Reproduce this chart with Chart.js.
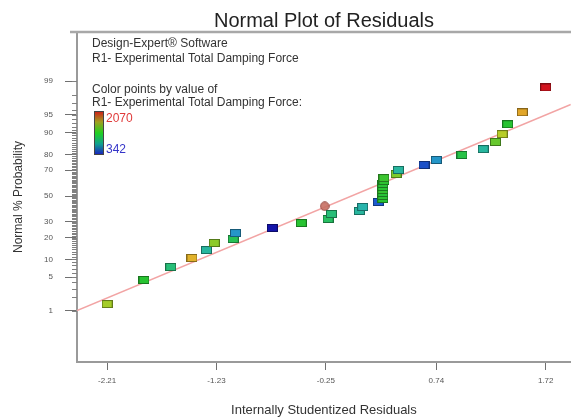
<!DOCTYPE html>
<html>
<head>
<meta charset="utf-8">
<script src="https://cdn.jsdelivr.net/npm/chart.js@4.4.1/dist/chart.umd.min.js"></script>
<style>
  html, body { margin: 0; padding: 0; background: #fff; }
</style>
</head>
<body>
<canvas id="residualChart" width="571" height="419"></canvas>
<script>
// values
const residuals = [-2.21, -1.88, -1.64, -1.45, -1.32, -1.25, -1.08, -1.06, -0.73, -0.47,
  -0.23, -0.20, 0.05, 0.08, 0.22, 0.26, 0.26, 0.26, 0.26, 0.26, 0.26, 0.27, 0.27,
  0.38, 0.40, 0.63, 0.74, 0.97, 1.16, 1.27, 1.33, 1.38, 1.51, 1.72];
const probabilities = [1.44, 4.46, 7.54, 10.5, 13.7, 17.1, 19.2, 22.7, 25.9, 29.2,
  32.1, 35.8, 38.1, 41.2, 45.2, 47.6, 50.0, 52.4, 54.8, 57.2, 59.6, 61.9, 64.2,
  67.2, 70.1, 73.5, 76.7, 79.7, 82.9, 86.3, 89.5, 92.7, 95.5, 98.6];
const dampingForce = [1465, 1292, 1120, 1724, 1033, 1430, 1206, 860, 342, 1292,
  1171, 1120, 1033, 999, 653, 1290, 1300, 1280, 1310, 1295, 1285, 1300, 1320,
  1413, 1033, 601, 860, 1240, 1033, 1379, 1517, 1292, 1759, 2070];
const markedResidual = [-0.26];
const markedProbability = [41.8];
const lineResiduals = [-2.48, 1.945];
const lineProbabilities = [1.02, 96.8];
const xTickValues = [-2.21, -1.23, -0.25, 0.74, 1.72];
const yTickPercents = [1, 5, 10, 20, 30, 50, 70, 80, 90, 95, 99];
const forceMin = 342;
const forceMax = 2070;

Chart.defaults.font.family = 'Arial, "Liberation Sans", sans-serif';

// inverse normal cdf (Acklam) - maps % probability onto the normal scale
function probit(p) {
  const a = [-3.969683028665376e+01, 2.209460984245205e+02, -2.759285104469687e+02, 1.383577518672690e+02, -3.066479806614716e+01, 2.506628277459239e+00];
  const b = [-5.447609879822406e+01, 1.615858368580409e+02, -1.556989798598866e+02, 6.680131188771972e+01, -1.328068155288572e+01];
  const c = [-7.784894002430293e-03, -3.223964580411365e-01, -2.400758277161838e+00, -2.549732539343734e+00, 4.374664141464968e+00, 2.938163982698783e+00];
  const d = [7.784695709041462e-03, 3.224671290700398e-01, 2.445134137142996e+00, 3.754408661907416e+00];
  const pl = 0.02425;
  let q, r;
  if (p < pl) {
    q = Math.sqrt(-2 * Math.log(p));
    return (((((c[0]*q+c[1])*q+c[2])*q+c[3])*q+c[4])*q+c[5]) / ((((d[0]*q+d[1])*q+d[2])*q+d[3])*q+1);
  }
  if (p <= 1 - pl) {
    q = p - 0.5; r = q * q;
    return (((((a[0]*r+a[1])*r+a[2])*r+a[3])*r+a[4])*r+a[5])*q / (((((b[0]*r+b[1])*r+b[2])*r+b[3])*r+b[4])*r+1);
  }
  q = Math.sqrt(-2 * Math.log(1 - p));
  return -(((((c[0]*q+c[1])*q+c[2])*q+c[3])*q+c[4])*q+c[5]) / ((((d[0]*q+d[1])*q+d[2])*q+d[3])*q+1);
}
const z = pct => probit(pct / 100);

// blue -> green -> red ramp like the Design-Expert legend
const rampStops = [
  [0, [20, 20, 170]], [0.2, [30, 100, 210]], [0.35, [40, 175, 195]], [0.45, [40, 190, 120]],
  [0.55, [40, 195, 50]], [0.65, [165, 205, 40]], [0.75, [225, 205, 45]], [0.85, [225, 150, 40]],
  [1, [210, 20, 30]]
];
function rampColor(v, k) {
  const t = Math.min(1, Math.max(0, (v - forceMin) / (forceMax - forceMin)));
  for (let i = 1; i < rampStops.length; i++) {
    if (t <= rampStops[i][0]) {
      const [t0, c0] = rampStops[i - 1], [t1, c1] = rampStops[i];
      const f = (t - t0) / (t1 - t0);
      const rgb = c0.map((x, j) => Math.round((x + (c1[j] - x) * f) * k));
      return `rgb(${rgb.join(',')})`;
    }
  }
  return 'rgb(210,20,30)';
}

function makeMarker(v) {
  const cv = document.createElement('canvas');
  cv.width = 11; cv.height = 8;
  const g = cv.getContext('2d');
  g.fillStyle = rampColor(v, 1);
  g.fillRect(0.5, 0.5, 10, 7);
  g.strokeStyle = rampColor(v, 0.6);
  g.lineWidth = 1;
  g.strokeRect(0.5, 0.5, 10, 7);
  return cv;
}
const markers = dampingForce.map(makeMarker);

function makeCircle() {
  const cv = document.createElement('canvas');
  cv.width = 10; cv.height = 10;
  const g = cv.getContext('2d');
  g.beginPath();
  g.arc(5, 5, 4.3, 0, Math.PI * 2);
  g.fillStyle = 'rgba(198,112,100,0.9)';
  g.fill();
  g.strokeStyle = '#9a5048';
  g.lineWidth = 1;
  g.stroke();
  return cv;
}
const circleMarker = makeCircle();

const pointData = residuals.map((x, i) => ({ x: x, y: z(probabilities[i]) }));
const markedData = markedResidual.map((x, i) => ({ x: x, y: z(markedProbability[i]) }));
const lineData = lineResiduals.map((x, i) => ({ x: x, y: z(lineProbabilities[i]) }));

const decorPlugin = {
  id: 'decor',
  afterDraw(chart) {
    const g = chart.ctx;
    const area = chart.chartArea;
    const yScale = chart.scales.y;
    g.save();
    // top frame line
    g.strokeStyle = '#a8a8a8';
    g.lineWidth = 2.5;
    g.beginPath();
    g.moveTo(70, area.top);
    g.lineTo(chart.width, area.top);
    g.stroke();
    // minor probability ticks
    g.strokeStyle = '#808080';
    g.lineWidth = 1;
    for (let p = 1; p <= 99; p++) {
      const py = Math.round(yScale.getPixelForValue(z(p))) + 0.5;
      g.beginPath();
      g.moveTo(area.left - 5, py);
      g.lineTo(area.left, py);
      g.stroke();
    }
    // title
    g.fillStyle = '#222';
    g.font = '20px Arial, "Liberation Sans", sans-serif';
    g.textAlign = 'center';
    g.textBaseline = 'alphabetic';
    g.fillText('Normal Plot of Residuals', 324, 27);
    // notes
    g.font = '12px Arial, "Liberation Sans", sans-serif';
    g.textAlign = 'left';
    g.textBaseline = 'middle';
    g.fillStyle = '#333';
    g.fillText('Design-Expert\u00ae Software', 92, 44);
    g.fillText('R1- Experimental Total Damping Force', 92, 59);
    g.fillText('Color points by value of', 92, 90);
    g.fillText('R1- Experimental Total Damping Force:', 92, 103);
    // colour bar
    const grad = g.createLinearGradient(0, 111, 0, 155);
    grad.addColorStop(0, '#d01818');
    grad.addColorStop(0.25, '#a0a020');
    grad.addColorStop(0.5, '#20d020');
    grad.addColorStop(0.75, '#10a090');
    grad.addColorStop(1, '#1a1ac0');
    g.fillStyle = grad;
    g.fillRect(94, 111, 10, 44);
    g.strokeStyle = '#444';
    g.lineWidth = 1;
    g.strokeRect(94.5, 111.5, 9, 43);
    g.fillStyle = '#e03a3a';
    g.fillText(String(forceMax), 106, 119);
    g.fillStyle = '#3535c8';
    g.fillText(String(forceMin), 106, 150);
    g.restore();
  }
};

new Chart(document.getElementById('residualChart'), {
  type: 'scatter',
  data: {
    datasets: [{
      label: 'Residuals',
      data: pointData,
      pointStyle: ctx => markers[ctx.dataIndex],
      pointRadius: 0.2,
      pointHoverRadius: 0,
      pointBorderWidth: 0,
      order: 1
    }, {
      label: 'Marked',
      data: markedData,
      pointStyle: circleMarker,
      pointRadius: 0.2,
      pointHoverRadius: 0,
      pointBorderWidth: 0,
      order: 1
    }, {
      type: 'line',
      label: 'Normal line',
      data: lineData,
      borderColor: '#f2a4a4',
      borderWidth: 1.5,
      pointRadius: 0,
      pointHoverRadius: 0,
      fill: false,
      order: 2
    }]
  },
  options: {
    responsive: false,
    animation: false,
    events: [],
    layout: { padding: { top: 32, right: 0, left: 0, bottom: 0 } },
    plugins: {
      legend: { display: false },
      tooltip: { enabled: false }
    },
    scales: {
      x: {
        type: 'linear',
        min: -2.48,
        max: 1.945,
        afterFit: s => { s.height = 57; s.paddingLeft = 0; s.paddingRight = 0; },
        afterBuildTicks: s => { s.ticks = xTickValues.map(v => ({ value: v })); },
        border: { display: true, color: '#9a9a9a', width: 2 },
        grid: { drawOnChartArea: false, drawTicks: true, tickLength: 8, color: '#707070' },
        ticks: {
          autoSkip: false,
          maxRotation: 0,
          padding: 6,
          color: '#555',
          font: { size: 8 },
          callback: v => v.toFixed(2)
        },
        title: {
          display: true,
          text: 'Internally Studentized Residuals',
          color: '#333',
          font: { size: 13 },
          padding: { top: 0, bottom: 1 }
        }
      },
      y: {
        type: 'linear',
        min: -3.36,
        max: 3.32,
        afterFit: s => { s.width = 77; s.paddingTop = 0; s.paddingBottom = 0; },
        afterBuildTicks: s => { s.ticks = yTickPercents.map(p => ({ value: z(p) })); },
        border: { display: true, color: '#9a9a9a', width: 2 },
        grid: { drawOnChartArea: false, drawTicks: true, tickLength: 12, color: '#707070' },
        ticks: {
          autoSkip: false,
          padding: 12,
          color: '#555',
          font: { size: 8 },
          callback: (v, i) => String(yTickPercents[i])
        },
        title: {
          display: true,
          text: 'Normal % Probability',
          color: '#333',
          font: { size: 12 },
          padding: { top: 11, bottom: 0 }
        }
      }
    }
  },
  plugins: [decorPlugin]
});
</script>
</body>
</html>
